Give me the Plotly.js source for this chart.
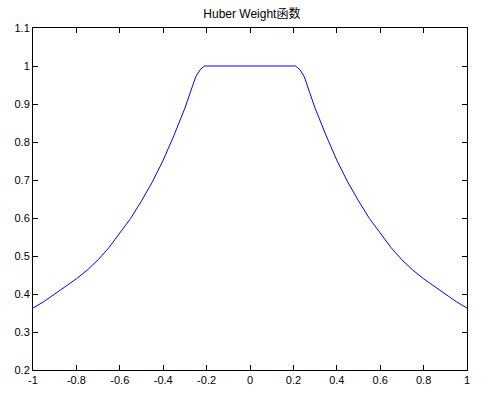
<!DOCTYPE html>
<html><head><meta charset="utf-8">
<script src="https://cdn.plot.ly/plotly-3.0.1.min.js"></script>
<style>html,body{margin:0;padding:0;background:#fff}#chart{width:491px;height:401px}</style>
</head><body><div id="chart"></div>
<script>
const xValues = [-1,-0.95,-0.9,-0.85,-0.8,-0.75,-0.7,-0.65,-0.6,-0.55,-0.5,-0.45,-0.4,-0.35,-0.3,-0.275,-0.25,-0.23,-0.21,0,0.21,0.23,0.25,0.275,0.3,0.35,0.4,0.45,0.5,0.55,0.6,0.65,0.7,0.75,0.8,0.85,0.9,0.95,1];
const weightValues = [0.363,0.380,0.400,0.420,0.440,0.463,0.490,0.522,0.560,0.599,0.645,0.695,0.752,0.818,0.889,0.930,0.972,0.990,1,1,1,0.990,0.972,0.930,0.889,0.818,0.752,0.695,0.645,0.599,0.560,0.522,0.490,0.463,0.440,0.420,0.400,0.380,0.363];
const xTickVals = [-1,-0.8,-0.6,-0.4,-0.2,0,0.2,0.4,0.6,0.8,1];
const xTickText = ["-1","-0.8","-0.6","-0.4","-0.2","0","0.2","0.4","0.6","0.8","1"];
const yTickVals = [0.2,0.3,0.4,0.5,0.6,0.7,0.8,0.9,1,1.1];
const yTickText = ["0.2","0.3","0.4","0.5","0.6","0.7","0.8","0.9","1","1.1"];
const titleText = "Huber Weight函数";

const axisCommon = {
  showline: true, mirror: 'ticks', linecolor: '#000', linewidth: 1,
  ticks: 'inside', ticklen: 5, tickcolor: '#000', tickwidth: 1,
  showgrid: false, zeroline: false,
  tickfont: {family: 'Liberation Sans, Arial, sans-serif', size: 11, color: '#000'}
};
Plotly.newPlot('chart', [{
  x: xValues, y: weightValues, type: 'scatter', mode: 'lines',
  line: {color: '#0000ff', width: 1}
}], {
  width: 491, height: 401,
  margin: {l: 33, r: 24, t: 28, b: 31},
  paper_bgcolor: '#fff', plot_bgcolor: '#fff',
  showlegend: false,
  title: {text: titleText, x: 0.513, xanchor: 'center', y: 0.965, yanchor: 'middle',
    font: {family: 'Liberation Sans, Noto Sans CJK SC, sans-serif', size: 12, color: '#000'}},
  xaxis: Object.assign({}, axisCommon, {range: [-1, 1], tickvals: xTickVals, ticktext: xTickText}),
  yaxis: Object.assign({}, axisCommon, {range: [0.2, 1.1], tickvals: yTickVals, ticktext: yTickText})
}, {staticPlot: true});
</script></body></html>
